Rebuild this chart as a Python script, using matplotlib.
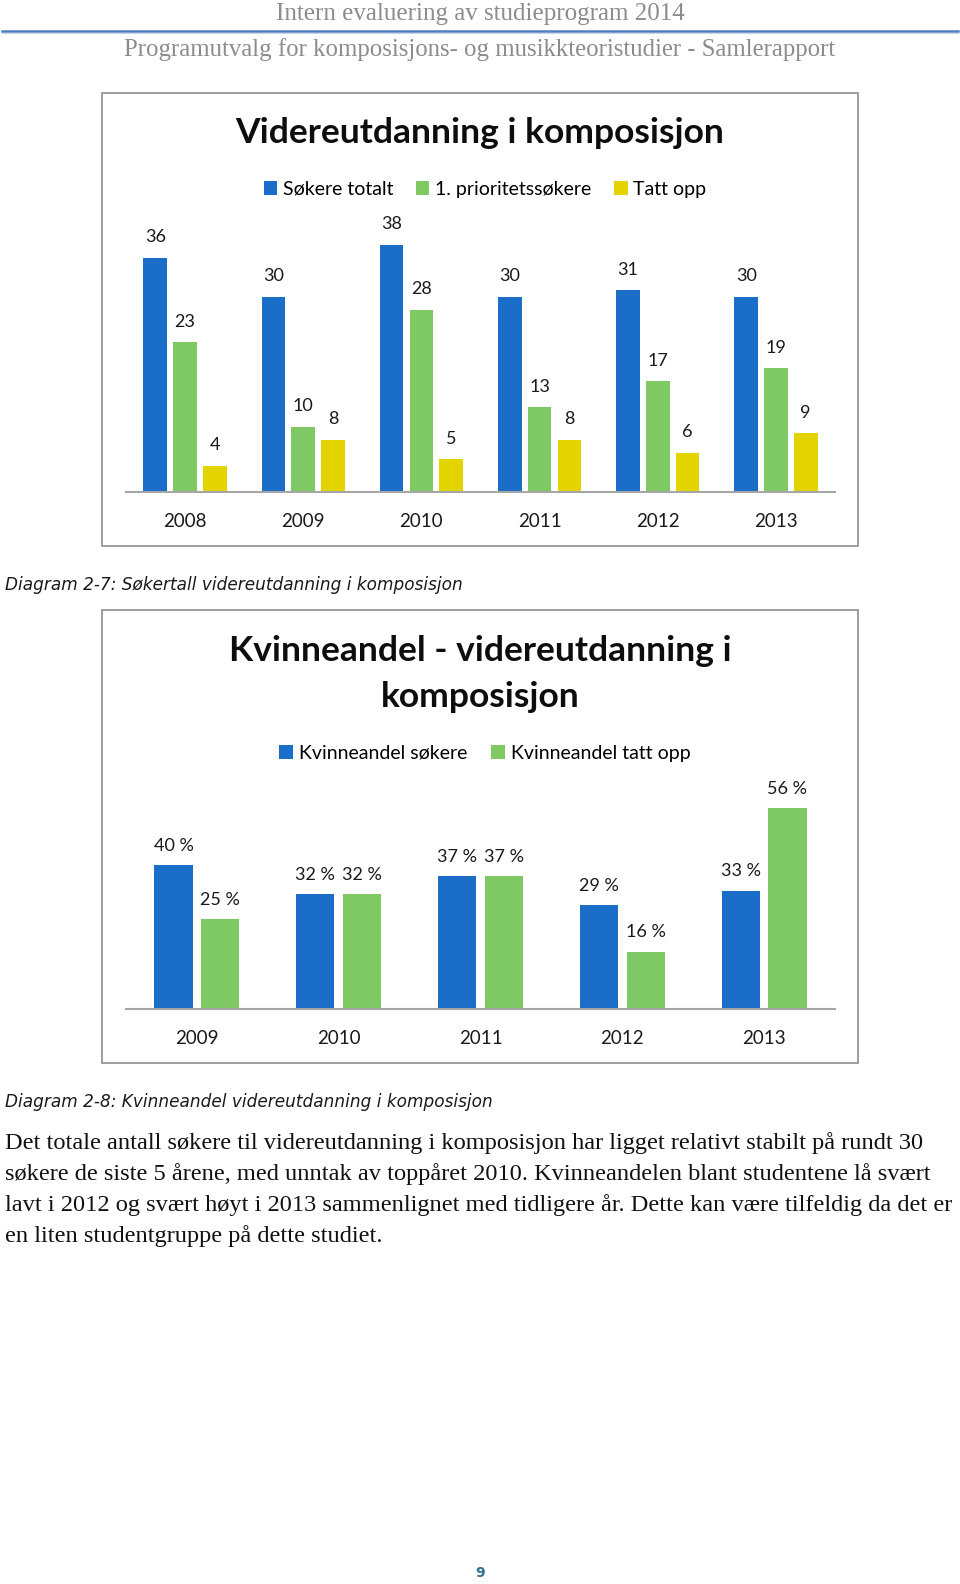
import matplotlib
matplotlib.use("Agg")
import matplotlib.pyplot as plt
from matplotlib.patches import Rectangle
import numpy as np

# ---- data ----
years1 = ["2008", "2009", "2010", "2011", "2012", "2013"]
sokere_totalt = [36, 30, 38, 30, 31, 30]
prioritet = [23, 10, 28, 13, 17, 19]
tatt_opp = [4, 8, 5, 8, 6, 9]
series1_names = ["Søkere totalt", "1. prioritetssøkere", "Tatt opp"]

years2 = ["2009", "2010", "2011", "2012", "2013"]
kv_sokere = [40, 32, 37, 29, 33]
kv_tatt = [25, 32, 37, 16, 56]
series2_names = ["Kvinneandel søkere", "Kvinneandel tatt opp"]

BLUE = "#1a6ec8"
GREEN = "#7ec964"
YELLOW = "#e3d400"
AXGRAY = "#a6a6a6"

W, H = 960, 1584
fig = plt.figure(figsize=(W / 100, H / 100), dpi=100)
fig.patch.set_facecolor("white")

def fx(px):
    return px / W

def fy(py):
    return 1 - py / H

SANS = ["Lato", "DejaVu Sans"]
SERIF = ["Liberation Serif", "DejaVu Serif"]

# ---- header ----
fig.text(0.5, fy(14), "Intern evaluering av studieprogram 2014", ha="center", va="center",
         fontsize=18, color="#8c8c8c", family=SERIF)
fig.add_artist(plt.Line2D([fx(2), fx(958)], [fy(31), fy(31)], color="#4f7ec0", lw=1.8))
fig.add_artist(plt.Line2D([fx(2), fx(958)], [fy(32.5), fy(32.5)], color="#c5d5ea", lw=0.8))
fig.text(0.5, fy(50), "Programutvalg for komposisjons- og musikkteoristudier - Samlerapport",
         ha="center", va="center", fontsize=17.8, color="#8c8c8c", family=SERIF)

# ---- frames ----
for (l, t, r, b) in [(102, 93, 858, 546), (102, 610, 858, 1063)]:
    fig.add_artist(Rectangle((fx(l), fy(b)), fx(r) - fx(l), fy(t) - fy(b),
                             transform=fig.transFigure, fill=False,
                             edgecolor="#8c8c8c", lw=1.2))

# ---- chart 1 ----
ax1_left, ax1_right = 126, 835
base1 = 492
ymax1 = 40
pxu1 = 6.51
ax1 = fig.add_axes([fx(ax1_left), fy(base1), fx(ax1_right) - fx(ax1_left), ymax1 * pxu1 / H])
x1 = np.arange(len(years1))
bw1 = 0.2
step1 = 0.252
for i, (vals, col) in enumerate(zip([sokere_totalt, prioritet, tatt_opp], [BLUE, GREEN, YELLOW])):
    bars = ax1.bar(x1 + (i - 1) * step1, vals, width=bw1, color=col, label=series1_names[i], zorder=2)
    for rect, v in zip(bars, vals):
        ax1.annotate(str(v), (rect.get_x() + rect.get_width() / 2, v), xytext=(0, 9),
                     textcoords="offset points", ha="center", va="bottom",
                     fontsize=13, family=SANS, color="#1a1a1a", annotation_clip=False)
ax1.set_xlim(-0.5, len(years1) - 0.5)
ax1.set_ylim(0, ymax1)
ax1.set_xticks(x1)
ax1.set_xticklabels(years1, fontsize=13.5, family=SANS, color="#1a1a1a")
ax1.tick_params(axis="x", length=0, pad=15)
ax1.set_yticks([])
for s in ["top", "right", "left"]:
    ax1.spines[s].set_visible(False)
ax1.spines["bottom"].set_color(AXGRAY)
ax1.spines["bottom"].set_linewidth(1.5)
ax1.patch.set_alpha(0)

fig.text(fx(480), fy(133), "Videreutdanning i komposisjon", ha="center", va="center",
         fontsize=25.5, fontweight="bold", family=SANS, color="#0d0d0d")
fig.legend(handles=ax1.containers, labels=series1_names, loc="center",
           bbox_to_anchor=(fx(485), fy(189)), ncol=3, frameon=False,
           prop={"family": SANS, "size": 14}, handlelength=0.7, handleheight=0.7,
           handletextpad=0.3, columnspacing=1.15)

# ---- chart 2 ----
base2 = 1009
ymax2 = 60
pxu2 = 3.59
ax2 = fig.add_axes([fx(ax1_left), fy(base2), fx(ax1_right) - fx(ax1_left), ymax2 * pxu2 / H])
x2 = np.arange(len(years2))
bw2 = 0.27
step2 = 0.33
for i, (vals, col) in enumerate(zip([kv_sokere, kv_tatt], [BLUE, GREEN])):
    bars = ax2.bar(x2 + (i - 0.5) * step2, vals, width=bw2, color=col, label=series2_names[i], zorder=2)
    for rect, v in zip(bars, vals):
        ax2.annotate(f"{v} %", (rect.get_x() + rect.get_width() / 2, v), xytext=(0, 8),
                     textcoords="offset points", ha="center", va="bottom",
                     fontsize=13, family=SANS, color="#1a1a1a", annotation_clip=False)
ax2.set_xlim(-0.5, len(years2) - 0.5)
ax2.set_ylim(0, ymax2)
ax2.set_xticks(x2)
ax2.set_xticklabels(years2, fontsize=13.5, family=SANS, color="#1a1a1a")
ax2.tick_params(axis="x", length=0, pad=15)
ax2.set_yticks([])
for s in ["top", "right", "left"]:
    ax2.spines[s].set_visible(False)
ax2.spines["bottom"].set_color(AXGRAY)
ax2.spines["bottom"].set_linewidth(1.5)
ax2.patch.set_alpha(0)

fig.text(fx(480), fy(651), "Kvinneandel - videreutdanning i", ha="center", va="center",
         fontsize=25.5, fontweight="bold", family=SANS, color="#0d0d0d")
fig.text(fx(480), fy(697), "komposisjon", ha="center", va="center",
         fontsize=25.5, fontweight="bold", family=SANS, color="#0d0d0d")
fig.legend(handles=ax2.containers, labels=series2_names, loc="center",
           bbox_to_anchor=(fx(485), fy(753)), ncol=2, frameon=False,
           prop={"family": SANS, "size": 14}, handlelength=0.7, handleheight=0.7,
           handletextpad=0.3, columnspacing=1.25)

# ---- captions ----
cap_font = ["DejaVu Sans"]
fig.text(fx(5), fy(585), "Diagram 2-7: Søkertall videreutdanning i komposisjon", ha="left", va="center",
         fontsize=12.2, style="italic", family=cap_font, color="#1a1a1a")
fig.text(fx(5), fy(1102), "Diagram 2-8: Kvinneandel videreutdanning i komposisjon", ha="left", va="center",
         fontsize=12.2, style="italic", family=cap_font, color="#1a1a1a")

# ---- body text ----
body_lines = [
    "Det totale antall søkere til videreutdanning i komposisjon har ligget relativt stabilt på rundt 30",
    "søkere de siste 5 årene, med unntak av toppåret 2010. Kvinneandelen blant studentene lå svært",
    "lavt i 2012 og svært høyt i 2013 sammenlignet med tidligere år. Dette kan være tilfeldig da det er",
    "en liten studentgruppe på dette studiet.",
]
for k, line in enumerate(body_lines):
    fig.text(fx(5), fy(1143 + k * 31), line, ha="left", va="center",
             fontsize=17.6, family=SERIF, color="#111111")

# ---- page number ----
fig.text(0.5, fy(1573), "9", ha="center", va="center", fontsize=10, fontweight="bold",
         family=["DejaVu Sans"], color="#2f6f8f")

fig.savefig("out.png", dpi=100, facecolor="white")
